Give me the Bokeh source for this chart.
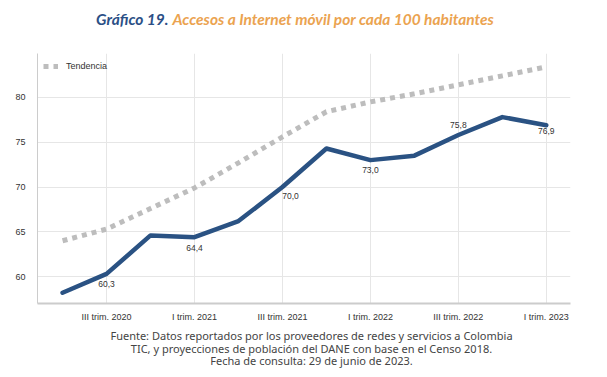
from bokeh.plotting import figure
from bokeh.layouts import column
from bokeh.models import Label, FixedTicker, Legend, LegendItem, ColumnDataSource, LabelSet
from bokeh.core.properties import value
from bokeh.embed import file_html
from bokeh.resources import INLINE

quarters = ["II trim. 2020", "III trim. 2020", "IV trim. 2020", "I trim. 2021",
            "II trim. 2021", "III trim. 2021", "IV trim. 2021", "I trim. 2022",
            "II trim. 2022", "III trim. 2022", "IV trim. 2022", "I trim. 2023"]
accesos = [58.2, 60.3, 64.6, 64.4, 66.2, 70.0, 74.3, 73.0, 73.5, 75.8, 77.8, 76.9]
tendencia = [64.0, 65.3, 67.6, 69.9, 72.7, 75.6, 78.4, 79.5, 80.4, 81.4, 82.4, 83.4]
labeled_idx = [1, 3, 5, 7, 9, 11]
label_offsets = [-10, -11, -9, -10, 10, -6]
label_dx = [0, 0, 8, 0, 0, 0]
title_a = "Gráfico 19."
title_b = "Accesos a Internet móvil por cada 100 habitantes"
footer = ["Fuente: Datos reportados por los proveedores de redes y servicios a Colombia",
          "TIC, y proyecciones de población del DANE con base en el Censo 2018.",
          "Fecha de consulta: 29 de junio de 2023."]

x = list(range(len(quarters)))
W = 591


def text_fig(h):
    f = figure(width=W, height=h, output_backend="svg", toolbar_location=None,
               x_axis_type=None, y_axis_type=None, min_border=0,
               x_range=(0, 1), y_range=(0, 1))
    f.outline_line_color = None
    return f


# title (column aligns frames, so screen x is measured from the chart frame's left edge)
ft = text_fig(47)
ft.add_layout(Label(x=131, y=29, x_units="screen", y_units="screen", text=title_a,
                    text_align="right", text_baseline="middle", text_font="Lato",
                    text_font_style="bold italic", text_font_size="15.5px", text_color="#2b4f86"))
ft.add_layout(Label(x=135, y=29, x_units="screen", y_units="screen", text=title_b,
                    text_align="left", text_baseline="middle", text_font="Lato",
                    text_font_style="bold italic", text_font_size="15.5px", text_color="#eba350"))

# main chart
p = figure(width=W, height=280, output_backend="svg", toolbar_location=None,
           x_range=(-0.57, 11.55), y_range=(57.0, 84.9),
           min_border_left=37, min_border_right=21, min_border_top=6, min_border_bottom=24)
p.outline_line_color = None
p.background_fill_color = "white"

p.xgrid.grid_line_color = "#e6e6e6"
p.ygrid.grid_line_color = "#e6e6e6"
p.xaxis.ticker = FixedTicker(ticks=[1, 3, 5, 7, 9, 11])
p.xaxis.major_label_overrides = {i: quarters[i] for i in x}
p.yaxis.ticker = FixedTicker(ticks=[60, 65, 70, 75, 80])
for ax in (p.xaxis, p.yaxis):
    ax.major_tick_line_color = None
    ax.minor_tick_line_color = None
    ax.axis_line_color = "#cccccc"
    ax.axis_line_width = 2
    ax.major_label_text_font = "Liberation Sans"
    ax.major_label_text_font_size = "9px"
    ax.major_label_text_color = "#333333"
p.yaxis.axis_line_width = 1
p.xaxis.major_label_standoff = 2
p.yaxis.major_label_standoff = 6

tr = p.line(x, tendencia, line_color="#bdbdbd", line_width=5, line_dash="5 5", line_cap="butt")
p.line(x, accesos, line_color="#2a5283", line_width=4.5, line_join="round", line_cap="round")

src = ColumnDataSource(dict(
    x=list(labeled_idx),
    y=[accesos[i] for i in labeled_idx],
    t=[f"{accesos[i]:.1f}".replace(".", ",") for i in labeled_idx],
    dy=label_offsets,
    dx=label_dx,
))
p.add_layout(LabelSet(x="x", y="y", text="t", source=src, x_offset="dx", y_offset="dy",
                      text_align="center", text_baseline="middle",
                      text_font=value("Liberation Sans"),
                      text_font_size="8.5px", text_color="#333333"))

legend = Legend(items=[LegendItem(label="Tendencia", renderers=[tr])], location=(6, 231),
                border_line_color=None, background_fill_alpha=0, label_text_font="Liberation Sans",
                label_text_font_size="9px", label_text_color="#333333", glyph_width=15,
                glyph_height=12, label_height=12, margin=0, padding=2, label_standoff=8)
p.add_layout(legend)

# footer
fb = text_fig(41)
for i, line in enumerate(footer):
    fb.add_layout(Label(x=274, y=33 - i * 12.5, x_units="screen", y_units="screen", text=line,
                        text_align="center", text_baseline="middle", text_font="Noto Sans",
                        text_font_size="11px", text_color="#444444"))

layout = column(ft, p, fb, spacing=0)
open("out.html", "w").write(file_html(layout, INLINE))
